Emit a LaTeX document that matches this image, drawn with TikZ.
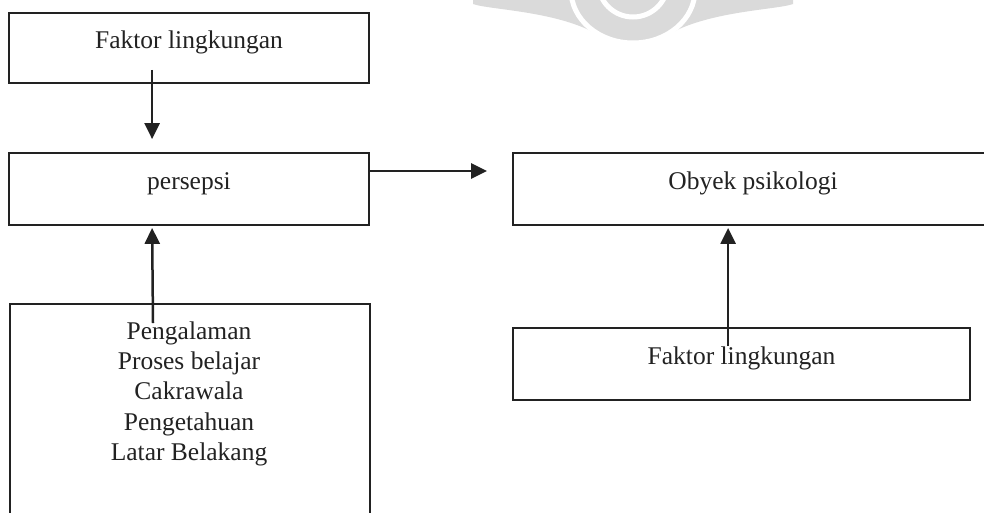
\documentclass[tikz,border=0pt]{standalone}
\usepackage{fontspec}
\setmainfont{Liberation Serif}
\usetikzlibrary{arrows.meta,calc}
\definecolor{ink}{HTML}{222222}
\definecolor{seal}{HTML}{DADADA}
\begin{document}
\begin{tikzpicture}[x=1pt,y=-1pt,
  lbl/.style={text=ink, font=\fontsize{25.5}{30.25}\selectfont},
  box/.style={lbl, draw=ink, line width=1.8pt, rectangle, inner sep=0pt,
              text height=0pt, text depth=0pt},
  conn/.style={draw=ink, line width=2.5pt, -{Triangle[length=16pt,width=15pt]}}]
\clip (0,0) rectangle (984,512);
\fill[white] (0,0) rectangle (984,512);

% faint seal in the page background
\fill[seal] (473,0) -- (473,4) .. controls (490,10) and (560,11) .. (600,36) -- (600,0) -- cycle;
\fill[seal] (793,0) -- (793,4) .. controls (776,10) and (706,11) .. (666,36) -- (666,0) -- cycle;
\filldraw[fill=seal, draw=white, line width=5pt] (633,-10) ellipse [x radius=62, y radius=53];
\draw[white, line width=5pt] (633,-18) circle [radius=35];

% boxes
\node[box, minimum width=360pt, minimum height=70pt] (env1) at (189,48) {Faktor lingkungan};
\node[box, minimum width=360pt, minimum height=72pt] (persepsi) at (189,189) {persepsi};
\node[box, minimum width=480pt, minimum height=72pt] (obyek) at (753,189) {Obyek psikologi};
\node[box, minimum width=457pt, minimum height=72pt] (env2) at (741.5,364) {Faktor lingkungan};
\node[draw=ink, line width=1.8pt, inner sep=0pt, minimum width=360pt, minimum height=240pt,
      anchor=north west] (factors) at (9,303) {};
\node[lbl, align=center] (factorlist) at (189,393.8)
  {Pengalaman\\Proses belajar\\Cakrawala\\Pengetahuan\\Latar Belakang};

% connectors
\draw[conn] ($(env1.south west)+(144,-14)$) -- ($(persepsi.north west)+(144,-13)$);
\draw[conn] ($(persepsi.east)+(0,-18)$) -- ($(obyek.west)+(-25,-18)$);
\draw[conn] ($(factors.north west)+(144,20)$) -- ($(persepsi.south west)+(144,2)$);
\draw[conn] ($(env2.north west)+(216,19)$) -- ($(obyek.south west)+(216,2)$);
\end{tikzpicture}
\end{document}
